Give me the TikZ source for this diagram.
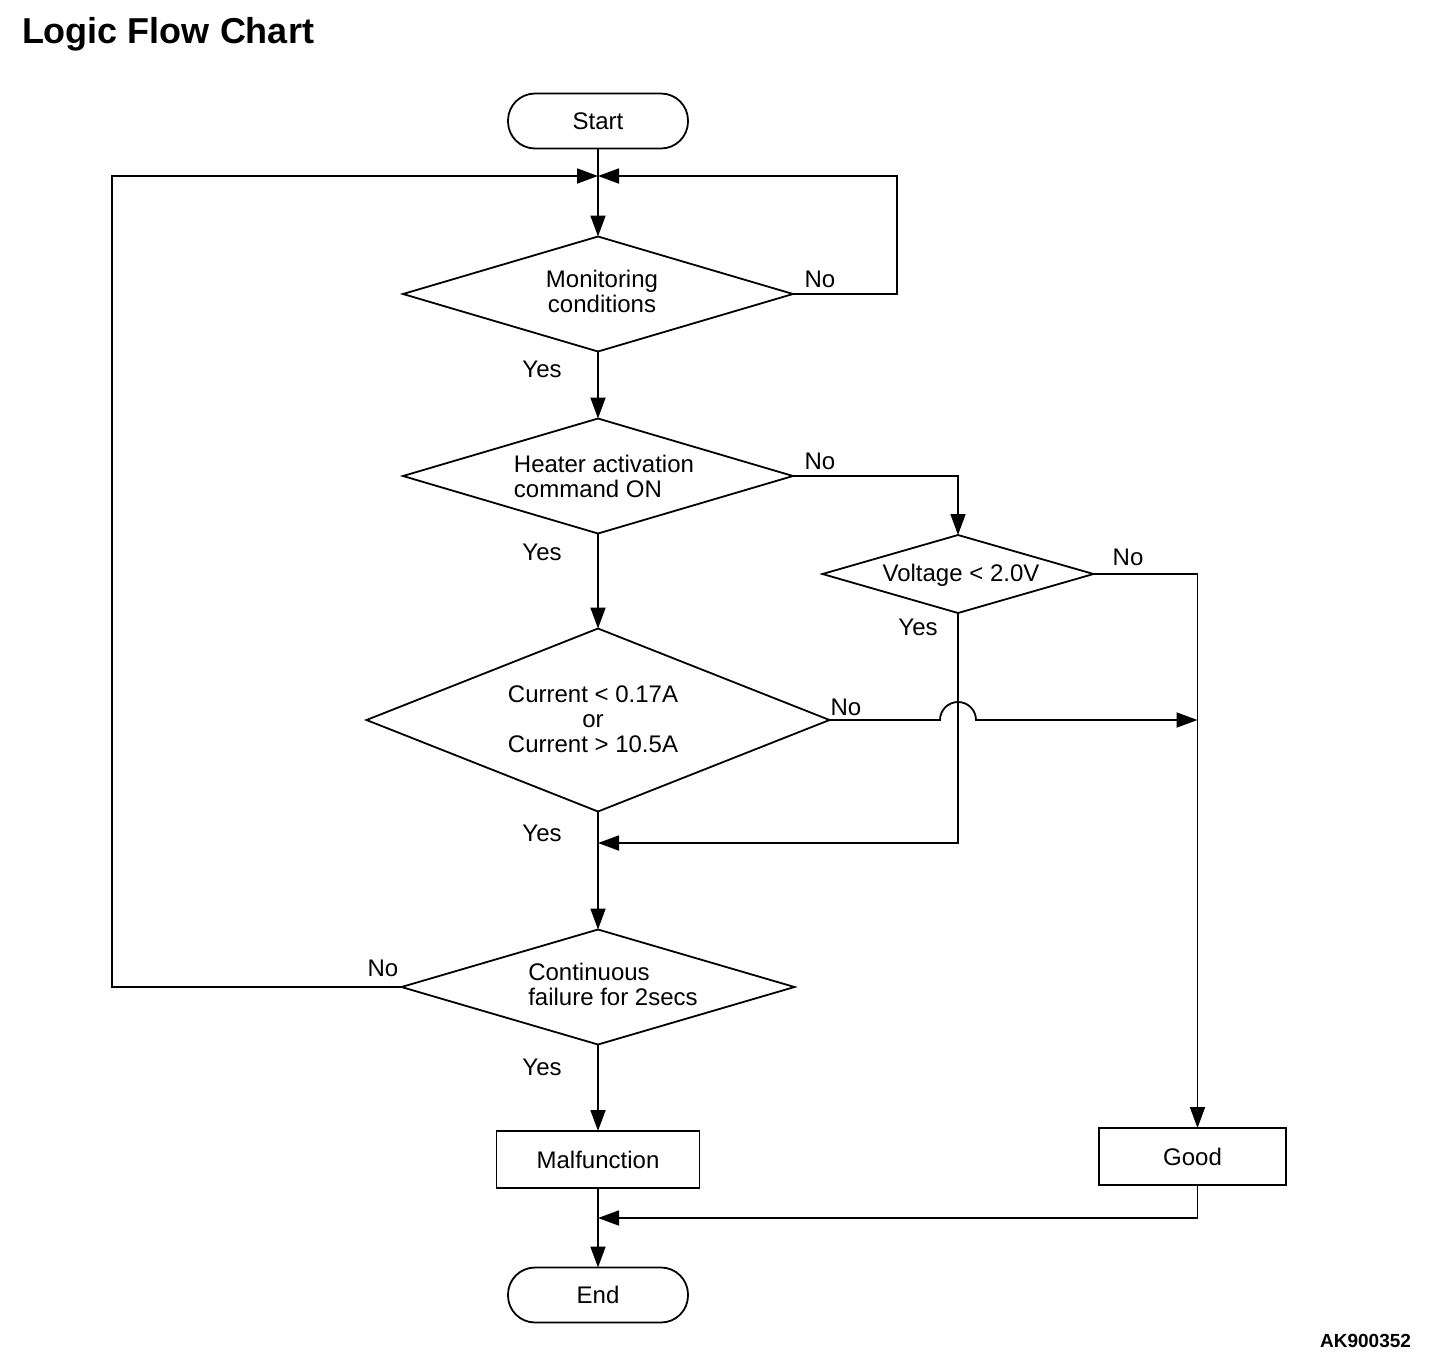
\documentclass[tikz,border=0pt]{standalone}
\usepackage{fontspec}
\setmainfont{Liberation Sans}
\usetikzlibrary{shapes.geometric,arrows.meta}
\begin{document}
\begin{tikzpicture}[x=1pt,y=-1pt,
  every node/.style={inner sep=0pt,outer sep=0pt},
  conn/.style={line width=1.8pt,line join=miter},
  arr/.style={conn,-{Triangle[length=21pt,width=15pt]}},
  dia/.style={draw,diamond,line width=1.8pt},
  term/.style={draw,rectangle,rounded corners=27pt,line width=1.8pt,minimum width=180pt,minimum height=55pt},
  proc/.style={draw,rectangle,line width=1.8pt,minimum height=57pt},
  txt/.style={font=\fontsize{24}{25}\selectfont},
  lbl/.style={font=\fontsize{24}{25}\selectfont}
]
\useasboundingbox (0,0) rectangle (1440,1358);
\node[anchor=base west,font=\fontsize{36}{40}\selectfont\bfseries] (title) at (22,43) {Logic Flow Chart};
\node[anchor=base east,font=\fontsize{19}{20}\selectfont\bfseries] (code) at (1411,1347) {AK900352};

\node[term,txt] (start) at (598,121) {Start};
\node[dia,minimum width=390pt,minimum height=115pt] (d1) at (598,294) {};
\node[txt,align=center] (t1) at (602,291) {Monitoring\\conditions};
\node[dia,minimum width=390pt,minimum height=115pt] (d2) at (598,476) {};
\node[txt,align=left] (t2) at (604,476) {Heater activation\\command ON};
\node[dia,minimum width=271pt,minimum height=78pt] (d5) at (958,574) {};
\node[txt] (t5) at (961,575) {Voltage < 2.0V};
\node[dia,minimum width=463pt,minimum height=183pt] (d3) at (598,720) {};
\node[txt,align=center] (t3) at (593,719) {Current < 0.17A\\or\\Current > 10.5A};
\node[dia,minimum width=393pt,minimum height=115pt] (d4) at (598,987) {};
\node[txt,align=left] (t4) at (613,984) {Continuous\\failure for 2secs};
\node[proc,txt,minimum width=203pt] (malf) at (598,1159.5) {Malfunction};
\node[proc,txt,minimum width=187pt] (good) at (1192.5,1156.5) {Good};
\node[term,txt] (end) at (598,1295) {End};

\coordinate (m) at (598,176);
\coordinate (gtop) at (1197.5,1128);
\coordinate (gbot) at (1197.5,1185);
\coordinate (j) at (598,843);
\coordinate (k) at (598,1218);

\draw[arr] (start.south) -- (d1.north);
\draw[arr] (d1.east) -- (897,294) -- (897,176) -- (m);
\draw[arr] (d4.west) -- (112,987) -- (112,176) -- (m);
\draw[arr] (d1.south) -- (d2.north);
\draw[arr] (d2.east) -| (d5.north);
\draw[arr] (d5.east) -| (gtop);
\draw[arr] (d2.south) -- (d3.north);
\draw[arr] (d3.east) -- (940,720) arc[start angle=180,end angle=0,radius=18pt] -- (1197.5,720);
\draw[arr] (d5.south) |- (j);
\draw[arr] (d3.south) -- (d4.north);
\draw[arr] (d4.south) -- (malf.north);
\draw[arr] (malf.south) -- (end.north);
\draw[arr] (gbot) |- (k);

\node[lbl] (n1) at (820,279) {No};
\node[lbl] (y1) at (542,369) {Yes};
\node[lbl] (n2) at (820,461) {No};
\node[lbl] (y2) at (542,552) {Yes};
\node[lbl] (n5) at (1128,557) {No};
\node[lbl] (y5) at (918,627) {Yes};
\node[lbl] (n3) at (846,707) {No};
\node[lbl] (y3) at (542,833) {Yes};
\node[lbl] (n4) at (383,968) {No};
\node[lbl] (y4) at (542,1067) {Yes};
\end{tikzpicture}
\end{document}
